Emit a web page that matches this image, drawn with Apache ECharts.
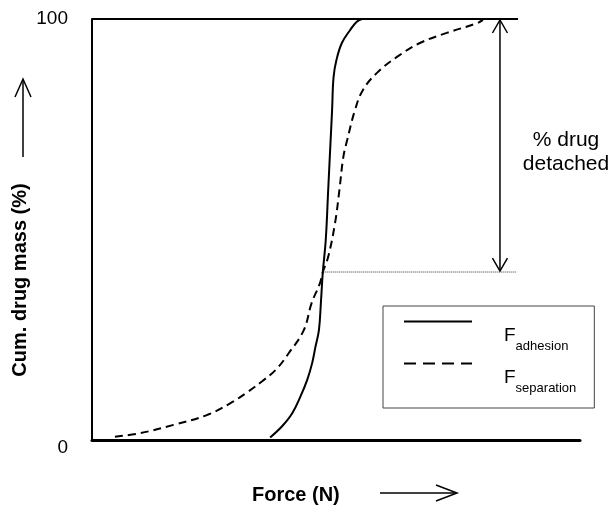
<!DOCTYPE html>
<html>
<head>
<meta charset="utf-8">
<title>Cumulative drug mass vs force</title>
<script src="https://cdn.jsdelivr.net/npm/echarts@6/dist/echarts.min.js"></script>
<style>
  html, body { margin: 0; padding: 0; background: #fff; }
  #chart { width: 616px; height: 507px; }
</style>
</head>
<body>
<div id="chart"></div>
<script>
// force axis is unitless here (schematic), 0..100
const adhesionForce = [36.5, 38.9, 41.0, 42.7, 44.1, 45.1, 45.8, 46.5, 46.9, 47.3, 47.9, 48.4, 48.9, 49.2, 49.5, 50.1, 51.2, 52.9, 54.2, 55.3];
const adhesionMass = [0.6, 3.2, 6.3, 10.3, 14.3, 18.2, 22.2, 26.1, 32.5, 39.9, 47.5, 59.4, 71.3, 78.4, 86.2, 90.3, 94.3, 97.4, 99.3, 100];

const separationForce = [4.7, 9.8, 16.7, 23.5, 28.3, 32.0, 34.8, 37.6, 40.3, 43.4, 45.0, 46.7, 47.3, 48.4, 49.8, 50.7, 51.5, 52.3, 53.9, 55.5, 58.4, 62.5, 67.2, 72.7, 78.9, 80.1];
const separationMass = [0.8, 1.6, 3.6, 5.9, 8.7, 11.5, 13.9, 16.6, 20.6, 26.1, 32.5, 37.2, 39.9, 43.5, 51.5, 59.4, 67.2, 71.3, 78.4, 83.1, 87.2, 91.0, 94.3, 96.7, 99.0, 99.8];

const yTicks = [0, 100];
const topLineEnd = 87.3;      // end of the 100 % line
const detachedForce = 83.6;   // where the double arrow sits
const crossingMass = 39.9;    // both curves cross here
const dottedFrom = 47.4;
const dottedTo = 86.9;

const zip = (xs, ys) => xs.map((x, i) => [x, ys[i]]);

const chart = echarts.init(document.getElementById('chart'));

const font = 'Liberation Sans, Arial, sans-serif';

const option = {
  animation: false,
  backgroundColor: '#fff',
  textStyle: { fontFamily: font, color: '#000' },
  grid: { left: 92, right: 36, top: 19, bottom: 67 },
  xAxis: {
    type: 'value',
    min: 0,
    max: 100,
    axisLine: { show: true, lineStyle: { color: '#000', width: 3 } },
    axisTick: { show: false },
    axisLabel: { show: false },
    splitLine: { show: false }
  },
  yAxis: {
    type: 'value',
    min: yTicks[0],
    max: yTicks[1],
    interval: yTicks[1] - yTicks[0],
    axisLine: { show: true, lineStyle: { color: '#000', width: 2 } },
    axisTick: { show: false },
    splitLine: { show: false },
    axisLabel: {
      margin: 24,
      fontSize: 19,
      color: '#000',
      fontFamily: font,
      formatter: v => (v === 0 ? '{z|0}' : String(v)),
      rich: { z: { fontSize: 19, padding: [16, 0, 0, 0], fontFamily: font } }
    }
  },
  legend: {
    orient: 'vertical',
    left: 383,
    top: 306,
    padding: [6, 18, 12, 20],
    itemGap: 0,
    itemWidth: 68,
    itemHeight: 14,
    borderColor: '#444',
    borderWidth: 1,
    borderRadius: 0,
    selectedMode: false,
    itemStyle: { opacity: 0 },
    data: [
      { name: 'adhesion' },
      { name: 'separation', lineStyle: { type: [12, 7] } }
    ],
    formatter: name => '{f|F}{s|' + name + '}',
    textStyle: {
      rich: {
        f: { fontSize: 19, lineHeight: 19, padding: [14, 0, 0, 27], verticalAlign: 'top', fontFamily: font, color: '#000' },
        s: { fontSize: 13, lineHeight: 13, padding: [28, 0, 1, 0], verticalAlign: 'top', fontFamily: font, color: '#000' }
      }
    }
  },
  series: [
    {
      name: 'adhesion',
      type: 'line',
      data: zip(adhesionForce, adhesionMass),
      smooth: 0.4,
      symbol: 'none',
      clip: false,
      lineStyle: { color: '#000', width: 2 },
      itemStyle: { color: '#000' },
      z: 3
    },
    {
      name: 'separation',
      type: 'line',
      data: zip(separationForce, separationMass),
      smooth: 0.4,
      symbol: 'none',
      clip: false,
      lineStyle: { color: '#000', width: 2, type: [8, 5] },
      itemStyle: { color: '#000' },
      z: 3
    },
    {
      // 100 % line
      name: 'top',
      type: 'line',
      data: [[0, 100], [topLineEnd, 100]],
      symbol: 'none',
      clip: false,
      silent: true,
      lineStyle: { color: '#000', width: 2 }
    },
    {
      name: 'level',
      type: 'line',
      data: [[dottedFrom, crossingMass], [dottedTo, crossingMass]],
      symbol: 'none',
      silent: true,
      lineStyle: { color: '#333', width: 1, type: [1, 1] }
    },
    {
      // double arrow "% drug detached"
      name: 'detached',
      type: 'custom',
      silent: true,
      clip: false,
      data: [[detachedForce, crossingMass, 100]],
      renderItem: (params, api) => {
        const hi = api.coord([api.value(0), api.value(2)]);
        const lo = api.coord([api.value(0), api.value(1)]);
        const w = 7.5, h = 14;
        const st = { stroke: '#000', fill: null, lineWidth: 1.5 };
        return {
          type: 'group',
          children: [
            { type: 'line', shape: { x1: hi[0], y1: hi[1] + 1, x2: lo[0], y2: lo[1] - 1 }, style: st },
            { type: 'polyline', shape: { points: [[hi[0] - w, hi[1] + h], [hi[0], hi[1] + 1], [hi[0] + w, hi[1] + h]] }, style: st },
            { type: 'polyline', shape: { points: [[lo[0] - w, lo[1] - h], [lo[0], lo[1] - 1], [lo[0] + w, lo[1] - h]] }, style: st }
          ]
        };
      }
    }
  ],
  graphic: [
    {
      type: 'text',
      x: 20,
      y: 280,
      rotation: Math.PI / 2,
      style: {
        text: 'Cum. drug mass (%)',
        font: 'bold 20px ' + font,
        fill: '#000',
        textAlign: 'center',
        textVerticalAlign: 'middle'
      }
    },
    {
      type: 'polyline',
      shape: { points: [[23, 157], [23, 80]] },
      style: { stroke: '#000', lineWidth: 1.5, fill: null }
    },
    {
      type: 'polyline',
      shape: { points: [[15, 97], [23, 79], [31, 97]] },
      style: { stroke: '#000', lineWidth: 1.5, fill: null }
    },
    {
      type: 'text',
      x: 252,
      y: 495,
      style: {
        text: 'Force (N)',
        font: 'bold 20px ' + font,
        fill: '#000',
        textAlign: 'left',
        textVerticalAlign: 'middle'
      }
    },
    {
      type: 'polyline',
      shape: { points: [[380, 493], [456, 493]] },
      style: { stroke: '#000', lineWidth: 1.5, fill: null }
    },
    {
      type: 'polyline',
      shape: { points: [[436, 485], [457, 493], [436, 501]] },
      style: { stroke: '#000', lineWidth: 1.5, fill: null }
    },
    {
      type: 'text',
      x: 566,
      y: 128,
      style: {
        text: '% drug\ndetached',
        font: '21px ' + font,
        lineHeight: 24,
        fill: '#000',
        textAlign: 'center',
        textVerticalAlign: 'top'
      }
    }
  ]
};

chart.setOption(option);
</script>
</body>
</html>
